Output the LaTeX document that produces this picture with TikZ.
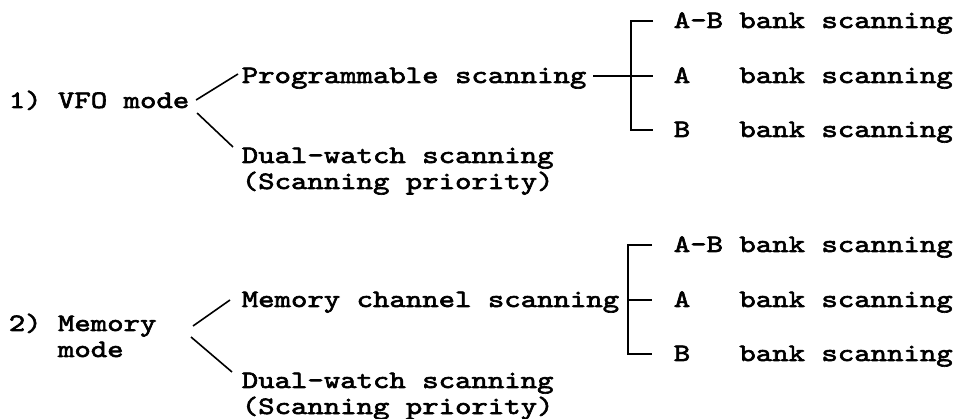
\documentclass[tikz,border=0pt]{standalone}
\usepackage{fontspec}
\newfontfamily\scanfont{lmmono10-regular.otf}[FakeStretch=1.25,FakeBold=2.5]
\begin{document}
\begin{tikzpicture}[x=1pt,y=-1pt,line width=1.6pt,
	every node/.style={inner sep=0pt,anchor=base west,align=left,font=\fontsize{25}{26}\scanfont\selectfont}]
	\useasboundingbox (0,0) rectangle (956,419);
	% VFO mode
	\node (vfo) at (8,108) {1) VFO mode};
	\node (prog) at (241,83) {Programmable scanning};
	\node (dualA) at (241,189) {Dual-watch scanning\\(Scanning priority)};
	\node (ab1) at (673,28) {A-B bank scanning};
	\node (a1) at (673,83) {A\hphantom{-B} bank scanning};
	\node (b1) at (673,137) {B\hphantom{-B} bank scanning};
	\draw ([shift={(6pt,8pt)}]vfo.base east) -- ([shift={(-3pt,9pt)}]prog.base west);
	\draw ([shift={(7pt,-5pt)}]vfo.base east) -- ([shift={(-8pt,42pt)}]dualA.base west);
	\draw ([shift={(-20pt,7pt)}]ab1.base west) -| ([shift={(-42pt,7pt)}]b1.base west) -- ([shift={(-20pt,7pt)}]b1.base west);
	\draw ([shift={(6pt,7pt)}]prog.base east) -- ([shift={(-20pt,7pt)}]a1.base west);
	% Memory mode
	\node (mem) at (8,357) {2) Memory\\\hphantom{2) }mode};
	\node (memch) at (241,307) {Memory channel scanning};
	\node (dualB) at (241,414) {Dual-watch scanning\\(Scanning priority)};
	\node (ab2) at (673,252) {A-B bank scanning};
	\node (a2) at (673,307) {A\hphantom{-B} bank scanning};
	\node (b2) at (673,361) {B\hphantom{-B} bank scanning};
	\draw ([shift={(185pt,31pt)}]mem.base west) -- ([shift={(-11pt,7pt)}]memch.base west);
	\draw ([shift={(183pt,20pt)}]mem.base west) -- ([shift={(-9pt,42pt)}]dualB.base west);
	\draw ([shift={(-21pt,7pt)}]ab2.base west) -| ([shift={(-45pt,7pt)}]b2.base west) -- ([shift={(-21pt,7pt)}]b2.base west);
	\draw ([shift={(9pt,7pt)}]memch.base east) -- ([shift={(-21pt,7pt)}]a2.base west);
\end{tikzpicture}
\end{document}
